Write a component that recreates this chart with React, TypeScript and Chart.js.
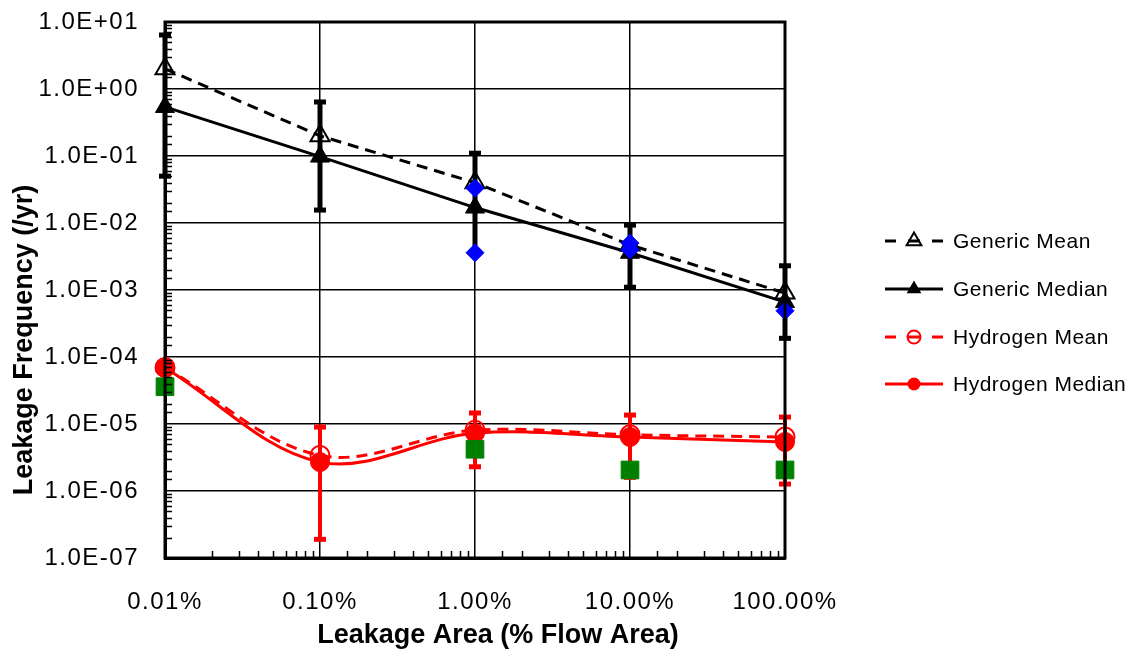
import React, { useEffect, useRef } from "react";
import { Chart, registerables } from "chart.js";

Chart.register(...registerables);

// ---------- data ----------
const leakArea = [0.01, 0.1, 1, 10, 100]; // % flow area
const xTickLabels = ["0.01%", "0.10%", "1.00%", "10.00%", "100.00%"];
const yTickLabels = [
  "1.0E-07",
  "1.0E-06",
  "1.0E-05",
  "1.0E-04",
  "1.0E-03",
  "1.0E-02",
  "1.0E-01",
  "1.0E+00",
  "1.0E+01",
];

const genericMean = [2.0, 0.2, 0.04, 0.0047, 0.0009];
const genericMedian = [0.54, 0.098, 0.017, 0.0036, 0.00066];
const genericLow = [0.05, 0.0156, 0.0037, 0.0011, 0.00019];
const genericHigh = [6.4, 0.64, 0.11, 0.0093, 0.0023];

const hydrogenMean = [7.0e-5, 3.4e-6, 8.1e-6, 6.9e-6, 6.4e-6];
const hydrogenMedian = [6.9e-5, 2.7e-6, 7.3e-6, 6.4e-6, 5.4e-6];
const hydrogenLow = [null, 1.9e-7, 2.3e-6, 1.6e-6, 1.27e-6];
const hydrogenHigh = [null, 9.0e-6, 1.46e-5, 1.36e-5, 1.27e-5];

const genericDataX = [1, 1, 10, 10, 100];
const genericDataY = [0.033, 0.0036, 0.005, 0.004, 0.00049];

const hydrogenDataX = [0.01, 1, 10, 100];
const hydrogenDataY = [3.6e-5, 4.2e-6, 2.06e-6, 2.06e-6];

const legendLabels = ["Generic Mean", "Generic Median", "Hydrogen Mean", "Hydrogen Median"];
const xTitle = "Leakage Area (% Flow Area)";
const yTitle = "Leakage Frequency (/yr)";

// ---------- helpers ----------
const FONT = '"Liberation Sans", Arial, sans-serif';
const pts = (xs: number[], ys: (number | null)[]) =>
  xs.map((x, i) => ({ x, y: ys[i] as number }));
const isMajor = (v: number) => Math.abs(Math.log10(v) - Math.round(Math.log10(v))) < 1e-6;

const errorSets = [
  { xs: leakArea, low: genericLow, high: genericHigh, color: "#000", width: 5, capW: 12, capH: 5 },
  { xs: leakArea, low: hydrogenLow, high: hydrogenHigh, color: "#ff0000", width: 4, capW: 12, capH: 5 },
];

const errorBarPlugin = {
  id: "errorBars",
  beforeDatasetsDraw(chart: any) {
    const { ctx, scales } = chart;
    const xs = scales.x;
    const ys = scales.y;
    ctx.save();
    errorSets.forEach((s) => {
      ctx.strokeStyle = s.color;
      ctx.fillStyle = s.color;
      ctx.lineWidth = s.width;
      s.xs.forEach((xv, i) => {
        const lo = s.low[i];
        const hi = s.high[i];
        if (lo == null || hi == null) return;
        const px = xs.getPixelForValue(xv);
        const pl = ys.getPixelForValue(lo);
        const ph = ys.getPixelForValue(hi);
        ctx.beginPath();
        ctx.moveTo(px, pl);
        ctx.lineTo(px, ph);
        ctx.stroke();
        ctx.fillRect(px - s.capW / 2, pl - s.capH / 2, s.capW, s.capH);
        ctx.fillRect(px - s.capW / 2, ph - s.capH / 2, s.capW, s.capH);
      });
    });
    ctx.restore();
  },
};

const frameAndTextPlugin = {
  id: "frameAndText",
  beforeDraw(chart: any) {
    chart.ctx.letterSpacing = "1.5px";
  },
  afterDraw(chart: any) {
    const { ctx, chartArea, scales } = chart;
    ctx.save();
    ctx.letterSpacing = "0px";
    // minor ticks (inside)
    ctx.strokeStyle = "#000";
    ctx.lineWidth = 1.5;
    scales.y.ticks.forEach((t: any) => {
      if (isMajor(t.value)) return;
      const py = Math.round(scales.y.getPixelForValue(t.value)) + 0.5;
      ctx.beginPath();
      ctx.moveTo(chartArea.left, py);
      ctx.lineTo(chartArea.left + 7, py);
      ctx.stroke();
    });
    scales.x.ticks.forEach((t: any) => {
      if (isMajor(t.value)) return;
      const px = Math.round(scales.x.getPixelForValue(t.value)) + 0.5;
      ctx.beginPath();
      ctx.moveTo(px, chartArea.bottom);
      ctx.lineTo(px, chartArea.bottom - 7);
      ctx.stroke();
    });
    // frame
    ctx.lineWidth = 3;
    ctx.strokeRect(chartArea.left, chartArea.top, chartArea.right - chartArea.left, chartArea.bottom - chartArea.top);

    // axis titles
    ctx.fillStyle = "#000";
    ctx.font = `bold 27px ${FONT}`;
    ctx.textAlign = "center";
    ctx.textBaseline = "middle";
    ctx.fillText(xTitle, 498, 636);
    ctx.save();
    ctx.translate(25, 340);
    ctx.rotate(-Math.PI / 2);
    ctx.fillText(yTitle, 0, 0);
    ctx.restore();

    // legend
    const ds = chart.data.datasets;
    const itemY = [241, 289, 337, 384];
    ctx.font = `21px ${FONT}`;
    ctx.textAlign = "left";
    ctx.letterSpacing = "0.5px";
    for (let i = 0; i < 4; i++) {
      const d = ds[i];
      const y = itemY[i];
      const dashed = d.borderDash && d.borderDash.length > 0;
      ctx.strokeStyle = d.borderColor;
      ctx.lineWidth = 3;
      ctx.setLineDash([]);
      ctx.beginPath();
      if (dashed) {
        ctx.moveTo(885, y); ctx.lineTo(896, y);
        ctx.moveTo(908, y); ctx.lineTo(920, y);
        ctx.moveTo(932, y); ctx.lineTo(943, y);
      } else {
        ctx.moveTo(885, y); ctx.lineTo(943, y);
      }
      ctx.stroke();
      // marker
      const cx = 914;
      const filled = d.pointBackgroundColor !== "rgba(0,0,0,0)";
      ctx.lineWidth = 2;
      ctx.fillStyle = d.borderColor;
      ctx.beginPath();
      if (d.pointStyle === "triangle") {
        const r = 8.5;
        ctx.moveTo(cx, y - r);
        ctx.lineTo(cx + r * 0.866, y + r * 0.5);
        ctx.lineTo(cx - r * 0.866, y + r * 0.5);
        ctx.closePath();
      } else {
        ctx.arc(cx, y, 6.5, 0, Math.PI * 2);
      }
      if (filled) ctx.fill();
      else ctx.stroke();
      ctx.fillStyle = "#000";
      ctx.fillText(legendLabels[i], 953, y + 1);
    }
    ctx.restore();
  },
};

export default function App() {
  const ref = useRef<HTMLCanvasElement | null>(null);

  useEffect(() => {
    document.body.style.margin = "0";
    const canvas = ref.current;
    if (!canvas) return;
    const chart = new Chart(canvas, {
      type: "line",
      data: {
        datasets: [
          {
            label: legendLabels[0],
            data: pts(leakArea, genericMean),
            borderColor: "#000",
            borderWidth: 3,
            borderDash: [11, 7],
            pointStyle: "triangle",
            pointRadius: 11,
            pointBorderWidth: 2,
            pointBorderColor: "#000",
            pointBackgroundColor: "rgba(0,0,0,0)",
            tension: 0,
            clip: false,
            order: 5,
          },
          {
            label: legendLabels[1],
            data: pts(leakArea, genericMedian),
            borderColor: "#000",
            borderWidth: 3,
            borderDash: [],
            pointStyle: "triangle",
            pointRadius: 11,
            pointBorderWidth: 1,
            pointBorderColor: "#000",
            pointBackgroundColor: "#000",
            tension: 0,
            clip: false,
            order: 4,
          },
          {
            label: legendLabels[2],
            data: pts(leakArea, hydrogenMean),
            borderColor: "#ff0000",
            borderWidth: 3,
            borderDash: [11, 7],
            pointStyle: "circle",
            pointRadius: 9.5,
            pointBorderWidth: 2,
            pointBorderColor: "#ff0000",
            pointBackgroundColor: "rgba(0,0,0,0)",
            tension: 0.35,
            clip: false,
            order: 3,
          },
          {
            label: legendLabels[3],
            data: pts(leakArea, hydrogenMedian),
            borderColor: "#ff0000",
            borderWidth: 3,
            borderDash: [],
            pointStyle: "circle",
            pointRadius: 9.5,
            pointBorderWidth: 1,
            pointBorderColor: "#ff0000",
            pointBackgroundColor: "#ff0000",
            tension: 0.35,
            clip: false,
            order: 2,
          },
          {
            label: "Generic data",
            data: pts(genericDataX, genericDataY),
            showLine: false,
            borderColor: "#0000ff",
            pointStyle: "rectRot",
            pointRadius: 9,
            pointBorderWidth: 1,
            pointBorderColor: "#0000ff",
            pointBackgroundColor: "#0000ff",
            clip: false,
            order: 0,
          },
          {
            label: "Hydrogen data",
            data: pts(hydrogenDataX, hydrogenDataY),
            showLine: false,
            borderColor: "#008000",
            pointStyle: "rect",
            pointRadius: 12.5,
            pointBorderWidth: 1,
            pointBorderColor: "#008000",
            pointBackgroundColor: "#008000",
            clip: false,
            order: 1,
          },
        ],
      },
      options: {
        responsive: false,
        animation: false,
        events: [],
        layout: { padding: { left: 0, top: 22, right: 346, bottom: 0 } },
        plugins: {
          legend: { display: false },
          tooltip: { enabled: false },
        },
        scales: {
          x: {
            type: "logarithmic",
            position: "bottom",
            min: 0.01,
            max: 100,
            afterFit: (s: any) => {
              s.height = 94;
              s.paddingLeft = 0;
              s.paddingRight = 0;
            },
            grid: {
              drawTicks: false,
              lineWidth: 1.5,
              color: (c: any) => (c.tick && isMajor(c.tick.value) ? "#000" : "rgba(0,0,0,0)"),
            },
            border: { display: true, color: "#000", width: 3 },
            ticks: {
              autoSkip: false,
              maxRotation: 0,
              padding: 30,
              color: "#000",
              font: { family: FONT, size: 24 },
              callback: (v: any) => {
                const n = Number(v);
                return isMajor(n) ? xTickLabels[Math.round(Math.log10(n)) + 2] : "";
              },
            },
          },
          y: {
            type: "logarithmic",
            position: "left",
            min: 1e-7,
            max: 10,
            afterFit: (s: any) => {
              s.width = 165;
              s.paddingTop = 0;
              s.paddingBottom = 0;
            },
            grid: {
              drawTicks: false,
              lineWidth: 1.5,
              color: (c: any) => (c.tick && isMajor(c.tick.value) ? "#000" : "rgba(0,0,0,0)"),
            },
            border: { display: true, color: "#000", width: 3 },
            ticks: {
              autoSkip: false,
              padding: 26,
              color: "#000",
              font: { family: FONT, size: 24 },
              callback: (v: any) => {
                const n = Number(v);
                return isMajor(n) ? yTickLabels[Math.round(Math.log10(n)) + 7] : "";
              },
            },
          },
        },
      },
      plugins: [errorBarPlugin, frameAndTextPlugin],
    } as any);
    return () => chart.destroy();
  }, []);

  return (
    <div style={{ position: "absolute", left: 0, top: 0, width: 1131, height: 652, background: "#fff" }}>
      <canvas ref={ref} width={1131} height={652} style={{ width: 1131, height: 652, display: "block" }} />
    </div>
  );
}
